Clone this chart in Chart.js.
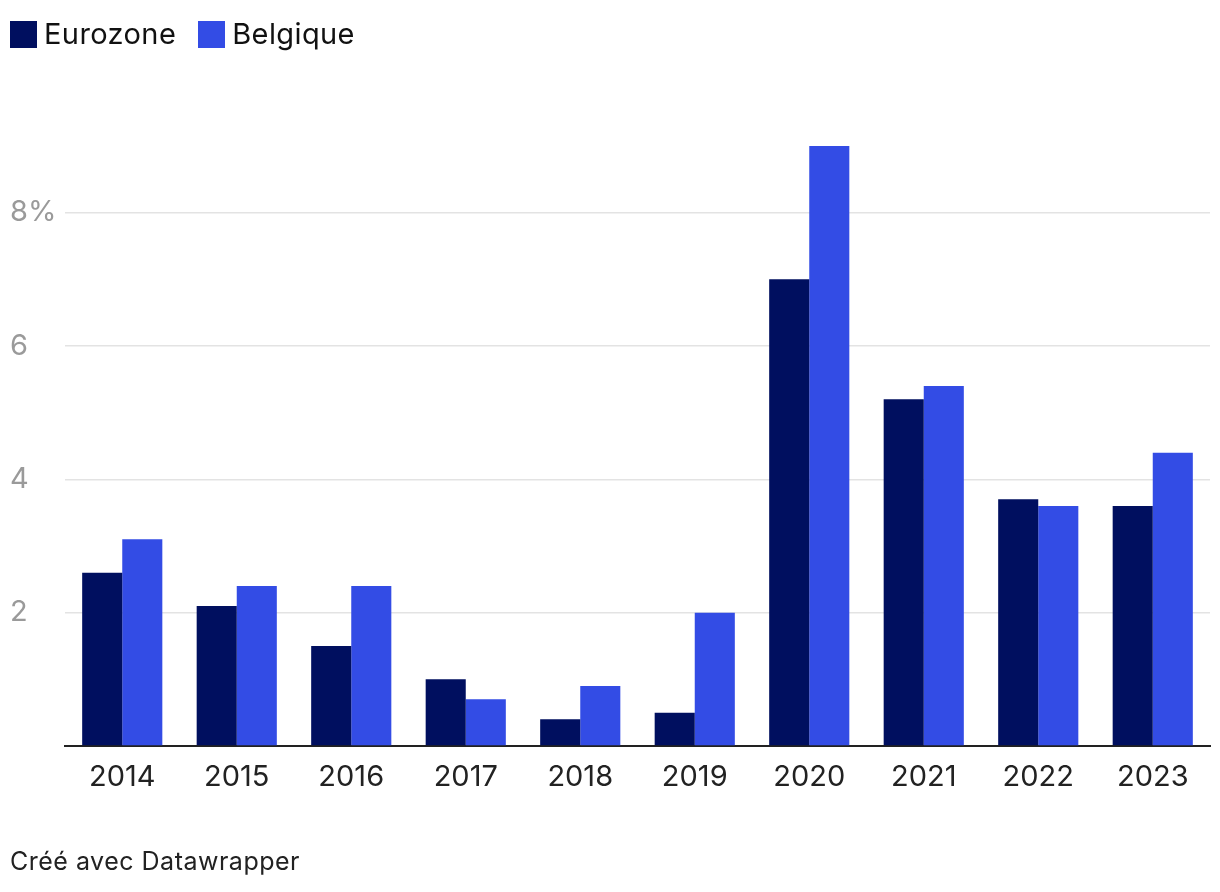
<!DOCTYPE html>
<html>
<head>
<meta charset="utf-8">
<script src="https://cdn.jsdelivr.net/npm/chart.js@4"></script>
<style>
  html, body { margin: 0; padding: 0; background: #fff; }
  body { width: 1220px; height: 892px; position: relative; overflow: hidden; font-family: Inter, Lato, sans-serif; }
  #legend { position: absolute; left: 10px; top: 16px; display: flex; align-items: center; font-size: 29px; color: #111; line-height: 36px; letter-spacing: 0.4px; }
  #legend .item { display: flex; align-items: center; margin-right: 22px; }
  #legend .sw { width: 27px; height: 27px; margin-right: 7px; }
  #credit { position: absolute; left: 10px; top: 846px; font-size: 25px; color: #222; letter-spacing: 0.5px; }
  #wrap { position: absolute; left: 0; top: 0; width: 1220px; height: 892px; }
</style>
</head>
<body>
<div id="wrap"><canvas id="chart" width="1220" height="892"></canvas></div>
<div id="legend"></div>
<div id="credit">Créé avec Datawrapper</div>
<script>
(function () {
    'use strict';

    var years = ['2014', '2015', '2016', '2017', '2018', '2019', '2020', '2021', '2022', '2023'];
    var eurozone = [2.6, 2.1, 1.5, 1.0, 0.4, 0.5, 7.0, 5.2, 3.7, 3.6];
    var belgique = [3.1, 2.4, 2.4, 0.7, 0.9, 2.0, 9.0, 5.4, 3.6, 4.4];
    var yTicks = [0, 2, 4, 6, 8];
    var seriesNames = ['Eurozone', 'Belgique'];
    var seriesColors = ['#000f5f', '#334ce5'];

    var legend = document.getElementById('legend');
    seriesNames.forEach(function (name, i) {
        var item = document.createElement('div');
        item.className = 'item';
        item.innerHTML = '<span class="sw" style="background:' + seriesColors[i] + '"></span><span>' + name + '</span>';
        legend.appendChild(item);
    });

    var ctx = document.getElementById('chart');
    new Chart(ctx, {
        type: 'bar',
        data: {
            labels: years,
            datasets: [
                { label: seriesNames[0], data: eurozone, backgroundColor: seriesColors[0] },
                { label: seriesNames[1], data: belgique, backgroundColor: seriesColors[1] }
            ]
        },
        options: {
            responsive: false,
            animation: false,
            devicePixelRatio: 1,
            categoryPercentage: 0.7,
            barPercentage: 1.0,
            layout: { padding: { left: 10, right: 10, top: 146, bottom: 0 } },
            plugins: {
                legend: { display: false },
                tooltip: { enabled: false }
            },
            scales: {
                x: {
                    grid: { display: false, drawTicks: false },
                    border: { display: true, color: '#222', width: 2 },
                    ticks: {
                        color: '#222',
                        font: { family: 'Inter', size: 29 },
                        padding: 14
                    },
                    afterFit: function (scale) { scale.height = 146; }
                },
                y: {
                    min: 0,
                    max: 9,
                    border: { display: false },
                    grid: {
                        color: function (c) { return c.tick && c.tick.value === 0 ? 'rgba(0,0,0,0)' : '#e3e3e3'; },
                        lineWidth: 1.5,
                        drawTicks: false
                    },
                    afterBuildTicks: function (scale) {
                        scale.ticks = yTicks.map(function (v) { return { value: v }; });
                    },
                    ticks: {
                        color: '#9a9a9a',
                        crossAlign: 'far',
                        font: { family: 'Inter', size: 29 },
                        callback: function (v) {
                            if (v === 0) return '';
                            return v === 8 ? v + '%' : String(v);
                        }
                    },
                    afterFit: function (scale) { scale.width = 55; }
                }
            }
        }
    });
})();
</script>
</body>
</html>
